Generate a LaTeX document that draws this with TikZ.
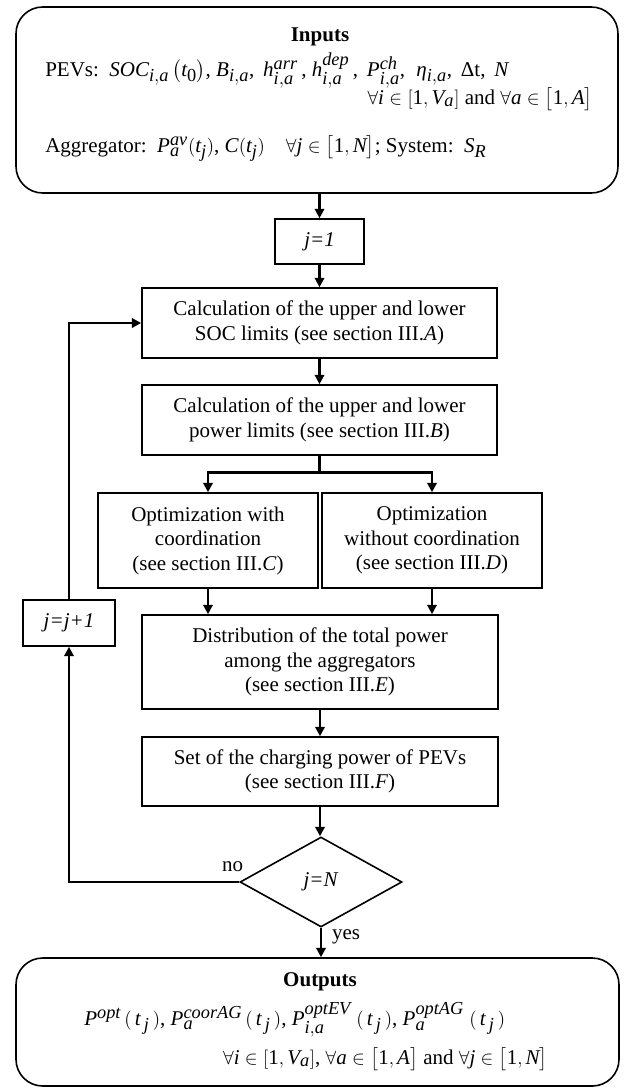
\documentclass[tikz,border=0pt]{standalone}
\usepackage{amsmath}
\usepackage{mathspec}
\setmainfont{Liberation Serif}
\setmathsfont(Digits,Latin,Greek){Liberation Serif}
\DeclareMathSizes{15.75}{15.75}{13.75}{10}
\newcommand{\ptj}{(\,t_{\,j}\,)}
\usepackage{tikz}
\usetikzlibrary{shapes.geometric, arrows.meta, positioning, calc}

\begin{document}
\begin{tikzpicture}[x=0.75pt, y=-0.75pt,
    every node/.style={font=\fontsize{15.75}{18.4}\selectfont},
    block/.style={draw, line width=1.2pt, align=center, inner sep=0pt},
    roundbox/.style={draw, line width=1.2pt, rounded corners=20pt, inner sep=0pt},
    flow/.style={line width=2pt, -{Triangle[length=7pt,width=7pt]}},
    lbl/.style={inner sep=0pt}]
    \def\bw{266.25pt}

    \useasboundingbox (0,0) rectangle (624,1088);

    % Inputs
    \node[roundbox, minimum width=451.5pt, minimum height=139.5pt] (inputs) at (317,100) {};
    \node[lbl, anchor=base] (intitle) at (320,42) {\bfseries Inputs};
    \node[lbl, anchor=base west] (pevs) at (45,76)
      {PEVs:\, $SOC_{i,a}\,\bigl(t_0\bigr)$, $B_{i,a}$, \,$h_{i,a}^{arr}$\,, $h_{i,a}^{dep}$\,, \,$P_{i,a}^{ch}$, \;$\eta_{i,a}$, \,Δt, \,$N$};
    \node[lbl, anchor=base east] (pevsrange) at (593,104)
      {$\forall i \in [1, V_a]$ and $\forall a \in \bigl[1, A\bigr]$};
    \node[lbl, anchor=base west] (aggr) at (45,152)
      {Aggregator:\, $P_a^{av}(t_j)$, $C(t_j) \quad \forall j \in \bigl[1, N\bigr]$; System:\, $S_R$};

    % Loop body
    \node[block, minimum width=66.75pt, minimum height=33.75pt] (j1) at (319.5,241.5) {\textit{j=1}};
    \node[block, minimum width=\bw, minimum height=52.5pt] (calc) at (319.5,323)
      {Calculation of the upper and lower\\SOC limits (see section III.\textit{A})};
    \node[block, minimum width=\bw, minimum height=52.5pt] (power) at (319.5,420)
      {Calculation of the upper and lower\\power limits (see section III.\textit{B})};
    \node[block, minimum width=165pt, minimum height=71.25pt] (optc) at (208,540.5)
      {Optimization with\\coordination\\(see section III.\textit{C})};
    \node[block, minimum width=165pt, minimum height=71.25pt] (optnc) at (432,540.5)
      {Optimization\\without coordination\\(see section III.\textit{D})};
    \node[block, minimum width=267pt, minimum height=70.5pt] (dist) at (320,662)
      {Distribution of the total power\\among the aggregators\\(see section III.\textit{E})};
    \node[block, minimum width=267pt, minimum height=51.75pt] (setp) at (320,771.5)
      {Set of the charging power of PEVs\\(see section III.\textit{F})};
    \node[draw, diamond, aspect=1.8, line width=1.2pt, inner sep=0pt,
      minimum width=121.5pt, minimum height=67.5pt] (dec) at (321,882) {\textit{j=N}};
    \node[block, minimum width=69pt, minimum height=34.5pt] (jinc) at (69,623) {\textit{j=j+1}};

    % Outputs
    \node[roundbox, minimum width=452.25pt, minimum height=96pt] (outputs) at (317.5,1022) {};
    \node[lbl, anchor=base] (outtitle) at (320,986) {\bfseries Outputs};
    \node[lbl, anchor=base west] (outvars) at (84,1025)
      {$P^{opt}\,\ptj$, $P_a^{coorAG}\,\ptj$, $P_{i,a}^{optEV}\;\ptj$, $P_a^{optAG}\;\ptj$};
    \node[lbl, anchor=base east] (outrange) at (548,1064)
      {$\forall i \in [1, V_a]$, $\forall a \in \bigl[1, A\bigr]$ and $\forall j \in \bigl[1, N\bigr]$};

    % Arrows
    \draw[flow] (j1.north |- inputs.south) -- (j1.north);
    \draw[flow] (j1) -- (calc);
    \draw[flow] (calc) -- (power);
    \draw[line width=2pt] (power.south) -- ++(0,17) coordinate (split);
    \draw[flow] (split) -| (optc.north);
    \draw[flow] (split) -| (optnc.north);
    \draw[flow] (optc.south) -- (optc.south |- dist.north);
    \draw[flow] (optnc.south) -- (optnc.south |- dist.north);
    \draw[flow] (dist) -- (setp);
    \draw[flow] (setp.south) -- (setp.south |- dec.north);
    \draw[flow] (dec.south) -- (dec.south |- outputs.north) node[pos=0.3, right=4pt] {yes};

    % Loop back
    \draw[flow] (dec.west) -| (jinc.south) node[pos=0, anchor=south east, xshift=5pt, yshift=6pt, inner sep=1pt] {no};
    \draw[flow] (jinc.north) |- (calc.west);
\end{tikzpicture}
\end{document}
